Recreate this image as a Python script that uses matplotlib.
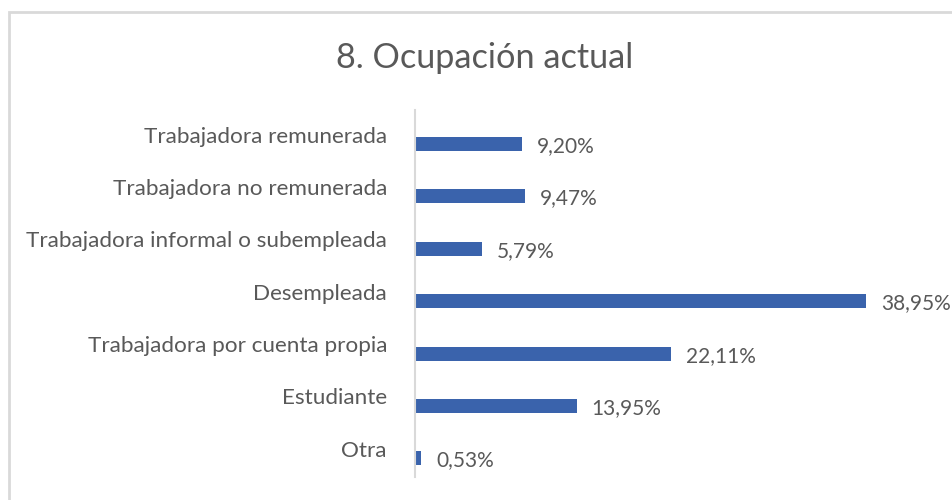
import matplotlib
matplotlib.use("Agg")
import matplotlib.pyplot as plt
from matplotlib.patches import Rectangle

categories = ["Trabajadora remunerada", "Trabajadora no remunerada",
              "Trabajadora informal o subempleada", "Desempleada",
              "Trabajadora por cuenta propia", "Estudiante", "Otra"]
values = [9.20, 9.47, 5.79, 38.95, 22.11, 13.95, 0.53]
value_labels = ["9,20%", "9,47%", "5,79%", "38,95%", "22,11%", "13,95%", "0,53%"]
title = "8. Ocupación actual"

W, H, DPI = 952, 500, 100
BAR = "#3A63AC"
TXT = "#595959"
GRID = "#D9D9D9"
FONT = "Lato"

fig = plt.figure(figsize=(W / DPI, H / DPI), dpi=DPI)
fig.patch.set_facecolor("white")

# outer chart border
fig.patches.append(Rectangle((8.5 / W, -0.05), 1.0, (H - 12) / H + 0.05,
                             transform=fig.transFigure, fill=False,
                             edgecolor=GRID, lw=2))

ax_left, ax_bottom = 415 / W, (H - 477) / H
px_per_unit = 11.58
xmax = 45
ax = fig.add_axes([ax_left, ax_bottom, xmax * px_per_unit / W, 367 / H])
ax.set_xlim(0, xmax)
ax.set_ylim(6.355, -0.649)

pos = list(range(len(categories)))
ax.barh(pos, values, height=0.27, color=BAR)

for s in ["top", "right", "bottom"]:
    ax.spines[s].set_visible(False)
ax.spines["left"].set_color(GRID)
ax.spines["left"].set_linewidth(1.5)
ax.set_xticks([])
ax.set_yticks([])

pt = 72 / DPI
for i, (c, v, lab) in enumerate(zip(categories, values, value_labels)):
    ax.annotate(c, xy=(0, i), xytext=(-28 * pt, 7.5 * pt), textcoords="offset points",
                ha="right", va="center", fontsize=16.2, color=TXT, family=FONT)
    ax.annotate(lab, xy=(v, i), xytext=(15 * pt, -2 * pt), textcoords="offset points",
                ha="left", va="center", fontsize=15.0, color=TXT, family=FONT)

fig.text(485 / W, 1 - 58 / H, title, ha="center", va="center",
         fontsize=24.7, color=TXT, family=FONT)

fig.savefig("out.png", dpi=DPI)
